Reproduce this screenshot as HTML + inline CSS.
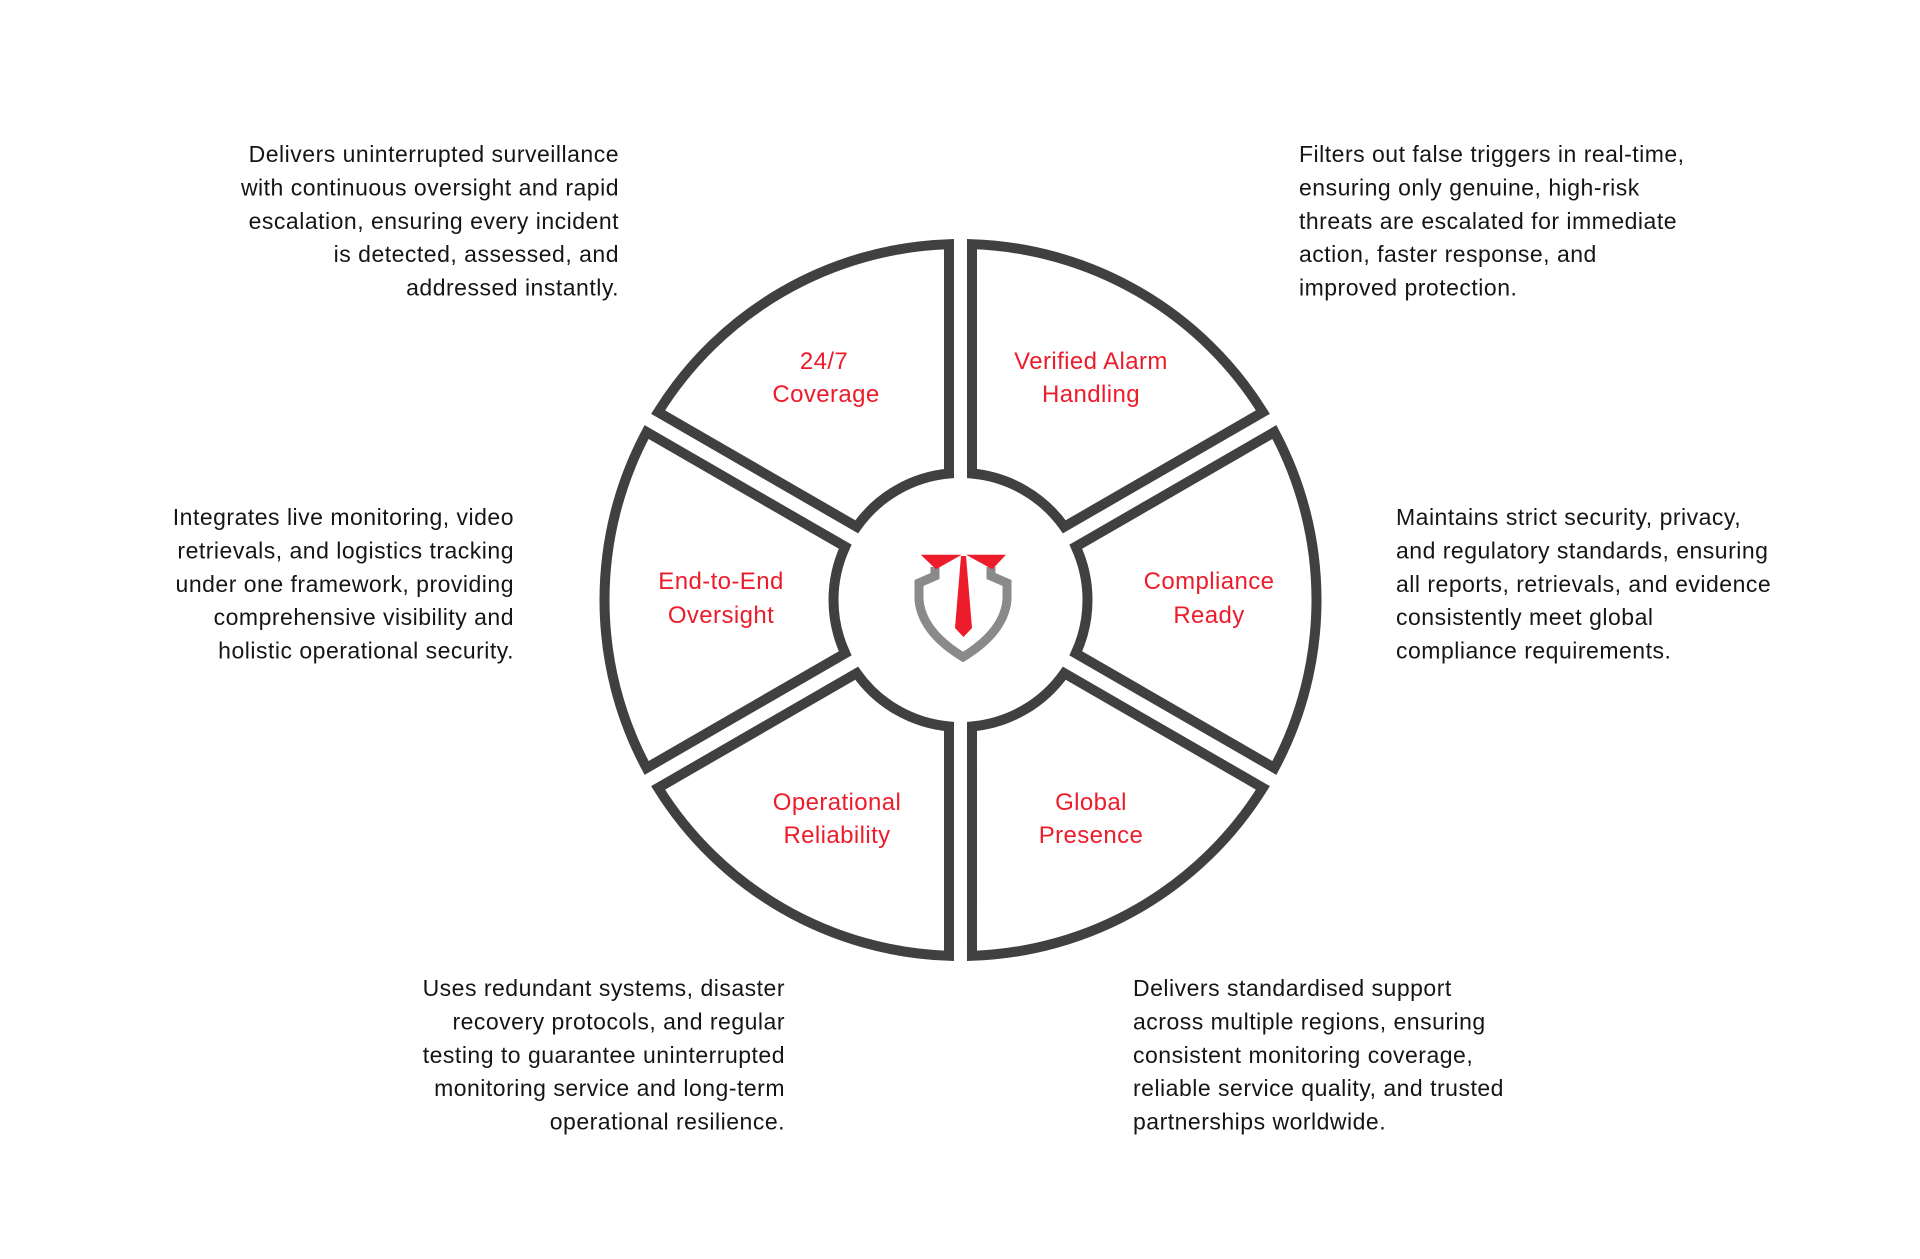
<!DOCTYPE html>
<html><head><meta charset="utf-8">
<style>
html,body{margin:0;padding:0;background:#fff;}
svg{display:block;}
.d{font-family:"Liberation Sans",sans-serif;font-size:23px;letter-spacing:0.5px;fill:#151515;}
.l{font-family:"Liberation Sans",sans-serif;font-size:24px;letter-spacing:0.4px;fill:#ec1c2a;text-anchor:middle;}
.e{text-anchor:end;}
</style></head><body>
<svg width="1920" height="1259" viewBox="0 0 1920 1259" xmlns="http://www.w3.org/2000/svg">
<rect width="1920" height="1259" fill="#fff"/>
<defs>
<path id="seg" d="M 115.28 -53.28 L 313.89 -167.95 A 356 356 0 0 1 313.89 167.95 L 115.28 53.28 A 127 127 0 0 0 115.28 -53.28 Z" fill="none" stroke="#404040" stroke-width="10" stroke-linejoin="miter"/>
</defs>
<g transform="translate(960.5,600)">
<use href="#seg"/>
<use href="#seg" transform="rotate(-60)"/>
<use href="#seg" transform="rotate(-120)"/>
<use href="#seg" transform="rotate(180)"/>
<use href="#seg" transform="rotate(120)"/>
<use href="#seg" transform="rotate(60)"/>
</g>
<!-- logo -->
<path d="M 935 567 L 935 576 L 919 583 L 919 600 Q 922 632 963 657 Q 1004 632 1007 600 L 1007 583 L 991 576 L 991 567" fill="none" stroke="#8a8a8a" stroke-width="9"/>
<polygon points="920.7,554.7 961.7,554.7 936,569.3" fill="#ec1c2a"/>
<polygon points="966,554.7 1006,554.7 992.3,569.3" fill="#ec1c2a"/>
<polygon points="961,556 966,556 972,628 963.5,637 955,628" fill="#ec1c2a"/>
<!-- labels -->
<text class="l" x="824" y="369">24/7</text>
<text class="l" x="826" y="402">Coverage</text>
<text class="l" x="1091" y="369">Verified Alarm</text>
<text class="l" x="1091" y="402">Handling</text>
<text class="l" x="1209" y="589">Compliance</text>
<text class="l" x="1209" y="623">Ready</text>
<text class="l" x="721" y="589">End-to-End</text>
<text class="l" x="721" y="623">Oversight</text>
<text class="l" x="837" y="810">Operational</text>
<text class="l" x="837" y="843">Reliability</text>
<text class="l" x="1091" y="810">Global</text>
<text class="l" x="1091" y="843">Presence</text>
<!-- descriptions -->
<g class="d e">
<text x="619" y="162">Delivers uninterrupted surveillance</text>
<text x="619" y="195.5">with continuous oversight and rapid</text>
<text x="619" y="229">escalation, ensuring every incident</text>
<text x="619" y="262">is detected, assessed, and</text>
<text x="619" y="295.5">addressed instantly.</text>
</g>
<g class="d">
<text x="1299" y="162">Filters out false triggers in real-time,</text>
<text x="1299" y="195.5">ensuring only genuine, high-risk</text>
<text x="1299" y="229">threats are escalated for immediate</text>
<text x="1299" y="262">action, faster response, and</text>
<text x="1299" y="295.5">improved protection.</text>
</g>
<g class="d e">
<text x="514" y="525">Integrates live monitoring, video</text>
<text x="514" y="558.5">retrievals, and logistics tracking</text>
<text x="514" y="592">under one framework, providing</text>
<text x="514" y="625">comprehensive visibility and</text>
<text x="514" y="658.5">holistic operational security.</text>
</g>
<g class="d">
<text x="1396" y="525">Maintains strict security, privacy,</text>
<text x="1396" y="558.5">and regulatory standards, ensuring</text>
<text x="1396" y="592">all reports, retrievals, and evidence</text>
<text x="1396" y="625">consistently meet global</text>
<text x="1396" y="658.5">compliance requirements.</text>
</g>
<g class="d e">
<text x="785" y="996">Uses redundant systems, disaster</text>
<text x="785" y="1029.5">recovery protocols, and regular</text>
<text x="785" y="1063">testing to guarantee uninterrupted</text>
<text x="785" y="1096">monitoring service and long-term</text>
<text x="785" y="1129.5">operational resilience.</text>
</g>
<g class="d">
<text x="1133" y="996">Delivers standardised support</text>
<text x="1133" y="1029.5">across multiple regions, ensuring</text>
<text x="1133" y="1063">consistent monitoring coverage,</text>
<text x="1133" y="1096">reliable service quality, and trusted</text>
<text x="1133" y="1129.5">partnerships worldwide.</text>
</g>
</svg>
</body></html>
